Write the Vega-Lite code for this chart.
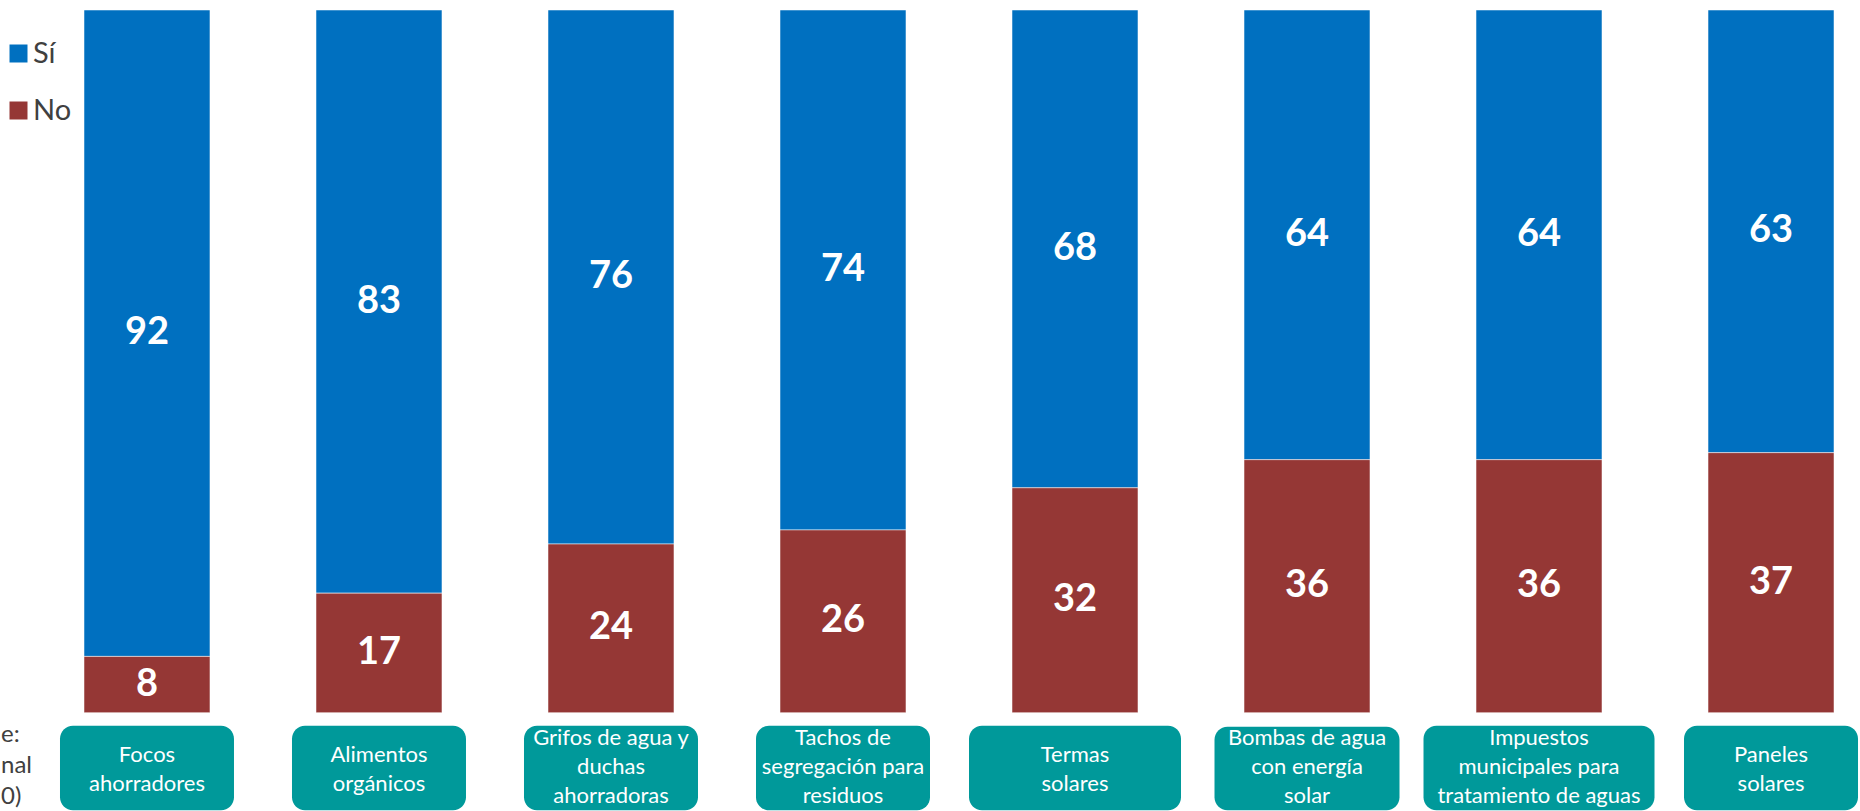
{
  "$schema": "https://vega.github.io/schema/vega-lite/v6.json",
  "autosize": {"type": "none"},
  "padding": {"left": 84, "top": 10, "right": 26, "bottom": 0},
  "width": 1750,
  "height": 801,
  "background": "#ffffff",
  "config": {
    "view": {"stroke": null},
    "font": "Lato",
    "axis": {"disable": true}
  },
  "data": {
    "values": [
      {"cat": "Focos\nahorradores", "resp": "Sí", "pct": 92},
      {"cat": "Focos\nahorradores", "resp": "No", "pct": 8},
      {"cat": "Alimentos\norgánicos", "resp": "Sí", "pct": 83},
      {"cat": "Alimentos\norgánicos", "resp": "No", "pct": 17},
      {"cat": "Grifos de agua y\nduchas\nahorradoras", "resp": "Sí", "pct": 76},
      {"cat": "Grifos de agua y\nduchas\nahorradoras", "resp": "No", "pct": 24},
      {"cat": "Tachos de\nsegregación para\nresiduos", "resp": "Sí", "pct": 74},
      {"cat": "Tachos de\nsegregación para\nresiduos", "resp": "No", "pct": 26},
      {"cat": "Termas\nsolares", "resp": "Sí", "pct": 68},
      {"cat": "Termas\nsolares", "resp": "No", "pct": 32},
      {"cat": "Bombas de agua\ncon energía\nsolar", "resp": "Sí", "pct": 64},
      {"cat": "Bombas de agua\ncon energía\nsolar", "resp": "No", "pct": 36},
      {"cat": "Impuestos\nmunicipales para\ntratamiento de aguas", "resp": "Sí", "pct": 64},
      {"cat": "Impuestos\nmunicipales para\ntratamiento de aguas", "resp": "No", "pct": 36},
      {"cat": "Paneles\nsolares", "resp": "Sí", "pct": 63},
      {"cat": "Paneles\nsolares", "resp": "No", "pct": 37}
    ]
  },
  "encoding": {
    "x": {
      "field": "cat",
      "type": "nominal",
      "sort": null,
      "axis": null,
      "scale": {"paddingInner": 0.457, "paddingOuter": 0}
    }
  },
  "layer": [
    {
      "mark": {"type": "bar", "stroke": "#ffffff", "strokeWidth": 1, "strokeOpacity": 0.5},
      "encoding": {
        "y": {
          "field": "pct",
          "type": "quantitative",
          "stack": "zero",
          "axis": null,
          "scale": {"domain": [-14, 100], "nice": false, "zero": false}
        },
        "color": {
          "field": "resp",
          "type": "nominal",
          "scale": {"domain": ["Sí", "No"], "range": ["#0070C0", "#953735"]},
          "legend": {
            "title": null,
            "orient": "none",
            "legendX": -80,
            "legendY": 29,
            "padding": 0,
            "symbolType": "square",
            "symbolSize": 324,
            "symbolStrokeWidth": 0,
            "labelFont": "Lato",
            "labelFontSize": 29,
            "labelColor": "#404040",
            "labelOffset": 0,
            "rowPadding": 27
          }
        },
        "order": {"field": "resp", "sort": "ascending"}
      }
    },
    {
      "mark": {"type": "text", "color": "#ffffff", "fontSize": 38, "fontWeight": "bold", "font": "Lato", "baseline": "middle"},
      "encoding": {
        "y": {"field": "pct", "type": "quantitative", "stack": "zero", "bandPosition": 0.5},
        "detail": {"field": "resp"},
        "order": {"field": "resp", "sort": "ascending"},
        "text": {"field": "pct", "type": "quantitative"}
      }
    },
    {
      "transform": [
        {"filter": "datum.resp == 'Sí' && indexof(datum.cat, 'Termas') < 0 && indexof(datum.cat, 'Bombas') < 0 && indexof(datum.cat, 'Impuestos') < 0"}
      ],
      "mark": {"type": "bar", "width": 174, "cornerRadius": 13, "color": "#00999A"},
      "encoding": {
        "y": {"datum": -1.85, "type": "quantitative"},
        "y2": {"datum": -13.9}
      }
    },
    {
      "transform": [{"filter": "datum.resp == 'Sí' && indexof(datum.cat, 'Termas') == 0"}],
      "mark": {"type": "bar", "width": 212, "cornerRadius": 13, "color": "#00999A"},
      "encoding": {
        "y": {"datum": -1.85, "type": "quantitative"},
        "y2": {"datum": -13.9}
      }
    },
    {
      "transform": [{"filter": "datum.resp == 'Sí' && indexof(datum.cat, 'Bombas') == 0"}],
      "mark": {"type": "bar", "width": 185, "cornerRadius": 13, "color": "#00999A"},
      "encoding": {
        "y": {"datum": -2.0, "type": "quantitative"},
        "y2": {"datum": -13.9}
      }
    },
    {
      "transform": [{"filter": "datum.resp == 'Sí' && indexof(datum.cat, 'Impuestos') == 0"}],
      "mark": {"type": "bar", "width": 231, "cornerRadius": 13, "color": "#00999A"},
      "encoding": {
        "y": {"datum": -1.85, "type": "quantitative"},
        "y2": {"datum": -13.9}
      }
    },
    {
      "transform": [{"filter": "datum.resp == 'Sí' && length(split(datum.cat, '\\n')) == 2"}],
      "mark": {"type": "text", "color": "#ffffff", "font": "Lato", "fontSize": 22, "lineHeight": 29, "lineBreak": "\n", "align": "center", "baseline": "middle"},
      "encoding": {
        "y": {"datum": -6.0, "type": "quantitative"},
        "text": {"field": "cat"}
      }
    },
    {
      "transform": [{"filter": "datum.resp == 'Sí' && length(split(datum.cat, '\\n')) == 3"}],
      "mark": {"type": "text", "color": "#ffffff", "font": "Lato", "fontSize": 22, "lineHeight": 29, "lineBreak": "\n", "align": "center", "baseline": "middle"},
      "encoding": {
        "y": {"datum": -3.6, "type": "quantitative"},
        "text": {"field": "cat"}
      }
    },
    {
      "data": {"values": [{"note": "e:\nnal\n0)"}]},
      "mark": {"type": "text", "color": "#404040", "font": "Lato", "fontSize": 24, "lineHeight": 31, "lineBreak": "\n", "align": "left", "baseline": "middle", "dx": -146},
      "encoding": {
        "x": {"datum": "Focos\nahorradores"},
        "y": {"datum": -3.2, "type": "quantitative"},
        "text": {"field": "note"}
      }
    }
  ]
}
